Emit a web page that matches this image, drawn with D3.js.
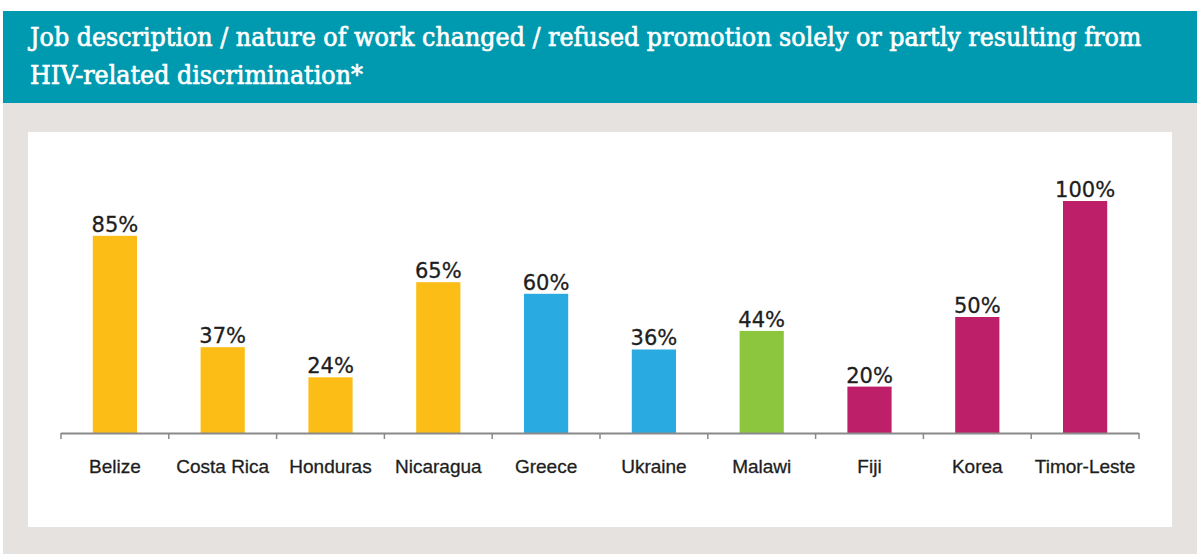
<!DOCTYPE html>
<html>
<head>
<meta charset="utf-8">
<script src="https://cdn.jsdelivr.net/npm/d3@7"></script>
<style>
  body { margin: 0; background: #fff; }
  svg { display: block; }
</style>
</head>
<body>
<script>
// data
var countries = ["Belize", "Costa Rica", "Honduras", "Nicaragua", "Greece",
  "Ukraine", "Malawi", "Fiji", "Korea", "Timor-Leste"];
var percents = [85, 37, 24, 65, 60, 36, 44, 20, 50, 100];
var regions = ["americas", "americas", "americas", "americas", "europe",
  "europe", "africa", "asia", "asia", "asia"];
var titleLines = [
  "Job description / nature of work changed / refused promotion solely or partly resulting from",
  "HIV-related discrimination*"
];

var W = 1197, H = 554;

var color = d3.scaleOrdinal()
  .domain(["americas", "europe", "africa", "asia"])
  .range(["#fcbd16", "#29abe2", "#8cc63f", "#bd1f68"]);

var svg = d3.select("body").append("svg")
  .attr("width", W)
  .attr("height", H);

// gray page + header band
svg.append("rect")
  .attr("x", 3).attr("y", 103)
  .attr("width", W - 3).attr("height", H - 103)
  .attr("fill", "#e6e2df");

svg.append("rect")
  .attr("x", 3).attr("y", 11)
  .attr("width", W - 3).attr("height", 92)
  .attr("fill", "#009ab0");

var title = svg.append("g")
  .attr("font-family", "'DejaVu Serif', serif")
  .attr("font-size", 26)
  .attr("fill", "#fff")
  .attr("stroke", "#fff")
  .attr("stroke-width", 0.7);

var t1 = title.append("text")
  .attr("x", 0).attr("y", 46)
  .text(titleLines[0]);
title.append("text")
  .attr("x", 0).attr("y", 84)
  .text(titleLines[1]);

// squeeze title horizontally to the width it has in the reference
var natural = t1.node().getComputedTextLength();
var squeeze = (1142 - 30) / natural;
title.attr("transform", "translate(30,0) scale(" + squeeze + ",1)");

// white chart panel
svg.append("rect")
  .attr("x", 28).attr("y", 132)
  .attr("width", 1172 - 28).attr("height", 527 - 132)
  .attr("fill", "#fff");

var margin = { left: 61, right: 1139, top: 200, bottom: 433 };

var x = d3.scaleBand()
  .domain(countries)
  .range([margin.left, margin.right])
  .paddingInner(0.59)
  .paddingOuter(0.295);

var y = d3.scaleLinear()
  .domain([0, 100])
  .range([margin.bottom, margin.top + 1]);

var chart = svg.append("g");

chart.selectAll(".bar")
  .data(percents)
  .enter().append("rect")
  .attr("class", "bar")
  .attr("x", function (d, i) { return x(countries[i]); })
  .attr("y", function (d) { return y(d); })
  .attr("width", x.bandwidth())
  .attr("height", function (d) { return y(0) - y(d); })
  .attr("fill", function (d, i) { return color(regions[i]); });

chart.selectAll(".val")
  .data(percents)
  .enter().append("text")
  .attr("class", "val")
  .attr("x", function (d, i) { return x(countries[i]) + x.bandwidth() / 2; })
  .attr("y", function (d) { return y(d) - 4; })
  .attr("text-anchor", "middle")
  .attr("font-family", "'DejaVu Sans', sans-serif")
  .attr("font-size", 21)
  .attr("fill", "#1e1e1e")
  .attr("stroke", "#1e1e1e")
  .attr("stroke-width", 0.3)
  .text(function (d) { return d + "%"; });

// axis: ticks sit on band boundaries
var step = x.step();
var boundaries = d3.range(countries.length + 1).map(function (i) {
  return margin.left + i * step;
});

var axis = svg.append("g");
axis.append("line")
  .attr("x1", margin.left).attr("x2", margin.right)
  .attr("y1", margin.bottom + 0.5).attr("y2", margin.bottom + 0.5)
  .attr("stroke", "#8a8a8a")
  .attr("stroke-width", 2);

axis.selectAll(".tick")
  .data(boundaries)
  .enter().append("line")
  .attr("class", "tick")
  .attr("x1", function (d) { return d; })
  .attr("x2", function (d) { return d; })
  .attr("y1", margin.bottom)
  .attr("y2", margin.bottom + 6)
  .attr("stroke", "#8a8a8a")
  .attr("stroke-width", 1.5);

axis.selectAll(".cat")
  .data(countries)
  .enter().append("text")
  .attr("class", "cat")
  .attr("x", function (d) { return x(d) + x.bandwidth() / 2; })
  .attr("y", 473)
  .attr("text-anchor", "middle")
  .attr("font-family", "'Liberation Sans', Arial, sans-serif")
  .attr("font-size", 19)
  .attr("fill", "#1e1e1e")
  .attr("stroke", "#1e1e1e")
  .attr("stroke-width", 0.3)
  .text(function (d) { return d; });
</script>
</body>
</html>
